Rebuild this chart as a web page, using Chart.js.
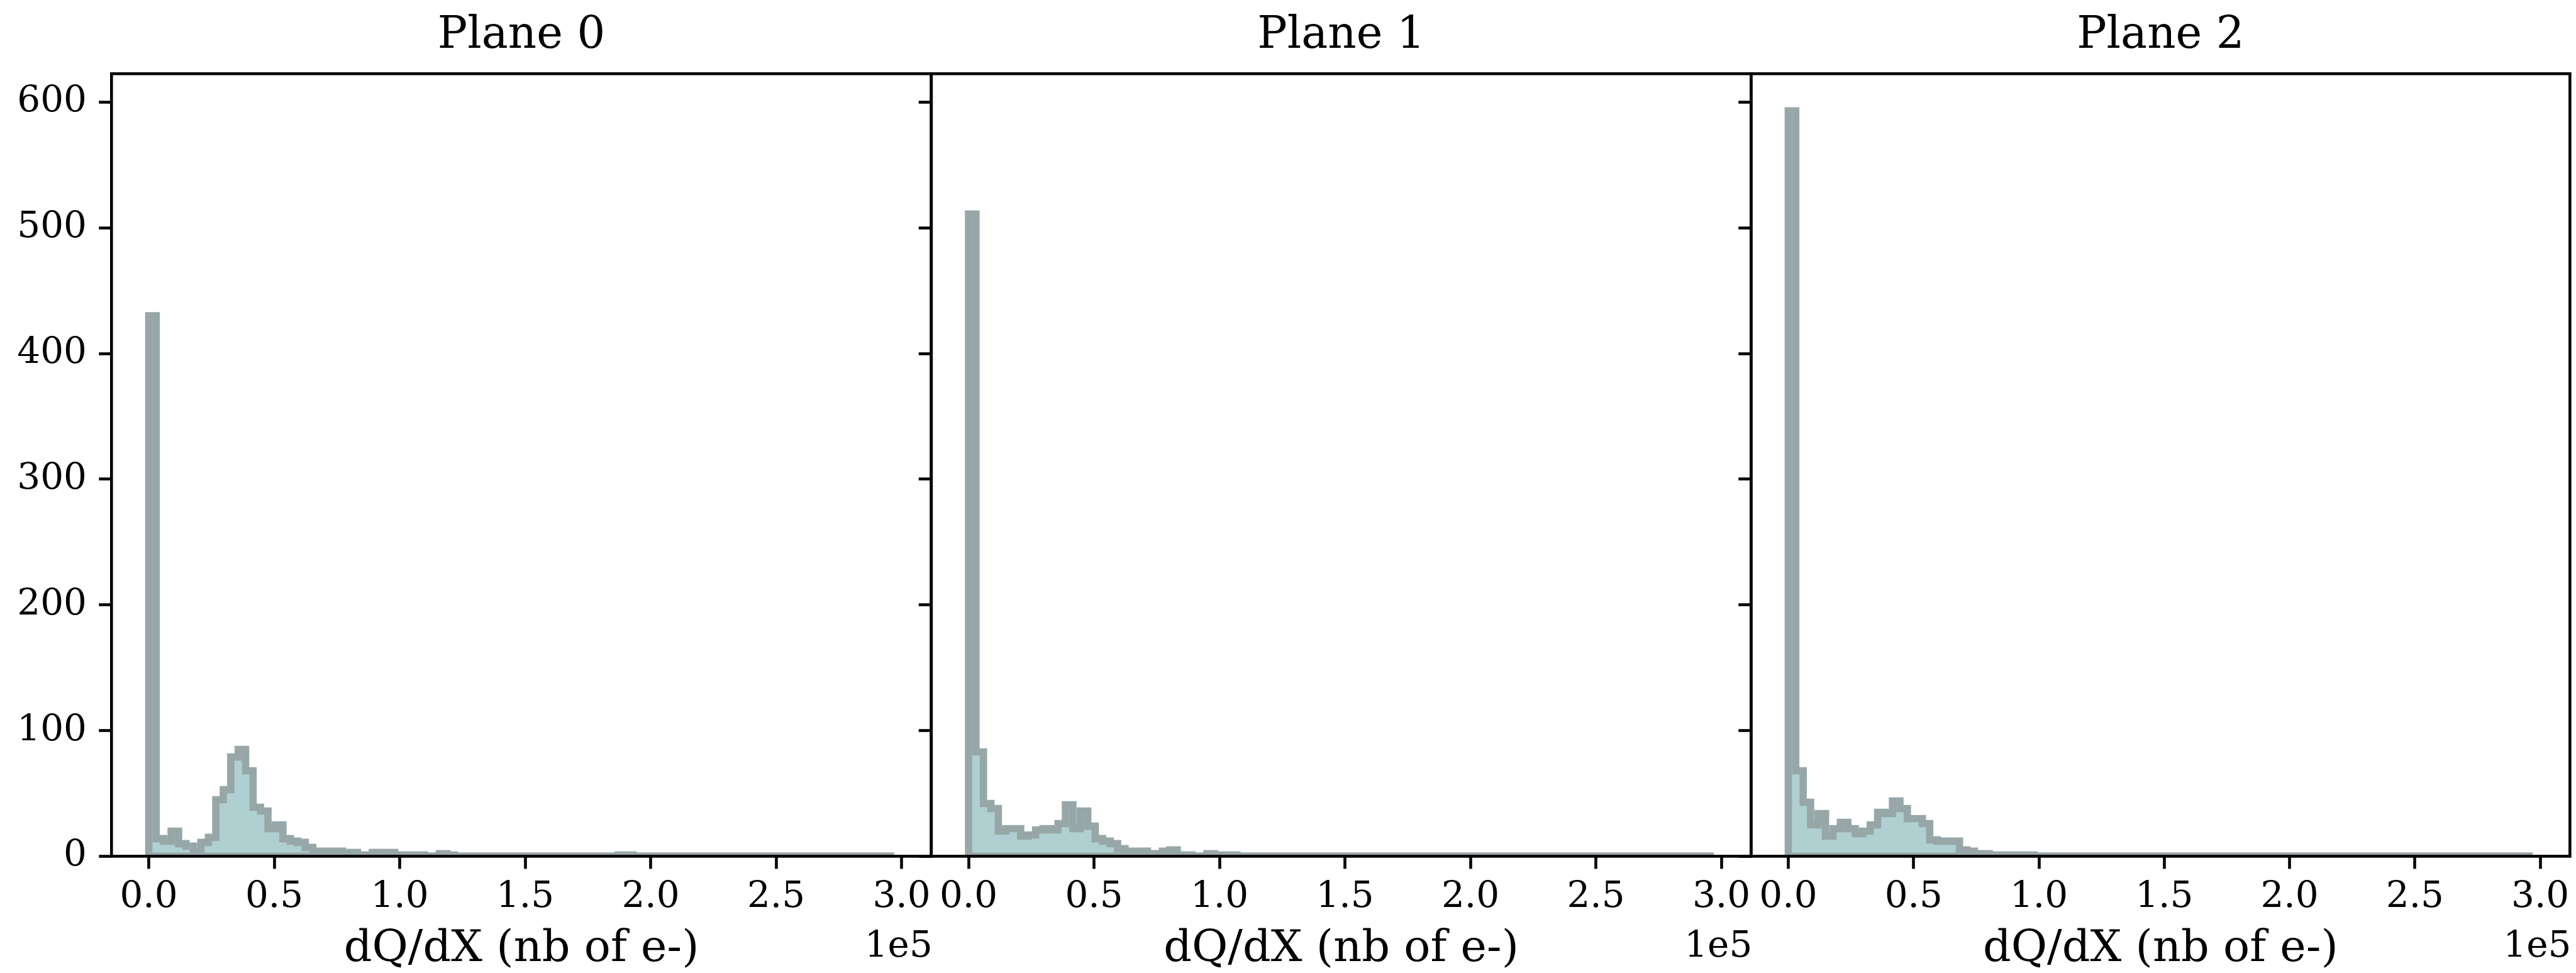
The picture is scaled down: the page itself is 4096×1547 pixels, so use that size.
<!DOCTYPE html>
<html>
<head>
<meta charset="utf-8">
<title>dQ/dX por plano</title>
<script src="https://cdn.jsdelivr.net/npm/chart.js@4.4.1/dist/chart.umd.min.js"></script>
<style>
  html, body { margin: 0; padding: 0; background: #fff; }
  #figura { position: relative; width: 4096px; height: 1547px; overflow: hidden; }
  #figura canvas { position: absolute; left: 0; top: 0; }
</style>
</head>
<body>
<div id="figura">
  <canvas id="plane0" width="4096" height="1547"></canvas>
  <canvas id="plane1" width="4096" height="1547"></canvas>
  <canvas id="plane2" width="4096" height="1547"></canvas>
</div>
<script>
// histograms: 100 bins starting at 0, each 2970 e- wide
const binStart = 0;
const binWidth = 2970;

const planeNames = ["Plane 0", "Plane 1", "Plane 2"];

const plane0Counts = [
    430, 14, 12, 20, 10, 8, 3, 11, 15, 45,
    53, 79, 85, 68, 39, 36, 22, 25, 14, 12,
    11, 7, 4, 3, 4, 4, 2, 3, 1, 1,
    3, 2, 3, 1, 1, 1, 1, 0, 0, 2,
    1, 0, 0, 0, 0, 0, 0, 0, 0, 0,
    0, 0, 0, 0, 0, 0, 0, 0, 0, 0,
    0, 0, 0, 1, 1, 0, 0, 0, 0, 0,
    0, 0, 0, 0, 0, 0, 0, 0, 0, 0,
    0, 0, 0, 0, 0, 0, 0, 0, 0, 0,
    0, 0, 0, 0, 0, 0, 0, 0, 0, 0
];

const plane1Counts = [
    511, 83, 42, 38, 20, 22, 22, 16, 17, 21,
    22, 21, 26, 41, 22, 36, 24, 14, 12, 10,
    6, 4, 3, 4, 2, 2, 4, 5, 1, 1,
    0, 0, 2, 1, 1, 1, 0, 0, 0, 0,
    0, 0, 0, 0, 0, 0, 0, 0, 0, 0,
    0, 0, 0, 0, 0, 0, 0, 0, 0, 0,
    0, 0, 0, 0, 0, 0, 0, 0, 0, 0,
    0, 0, 0, 0, 0, 0, 0, 0, 0, 0,
    0, 0, 0, 0, 0, 0, 0, 0, 0, 0,
    0, 0, 0, 0, 0, 0, 0, 0, 0, 0
];

const plane2Counts = [
    593, 68, 43, 25, 34, 16, 22, 27, 22, 18,
    20, 25, 35, 34, 44, 38, 30, 30, 26, 13,
    12, 12, 12, 5, 4, 2, 2, 1, 1, 1,
    1, 1, 1, 0, 0, 0, 0, 0, 0, 0,
    0, 0, 0, 0, 0, 0, 0, 0, 0, 0,
    0, 0, 0, 0, 0, 0, 0, 0, 0, 0,
    0, 0, 0, 0, 0, 0, 0, 0, 0, 0,
    0, 0, 0, 0, 0, 0, 0, 0, 0, 0,
    0, 0, 0, 0, 0, 0, 0, 0, 0, 0,
    0, 0, 0, 0, 0, 0, 0, 0, 0, 0
];

const xTicks = [0, 50000, 100000, 150000, 200000, 250000, 300000];
const yTicks = [0, 100, 200, 300, 400, 500, 600];
const xRange = [-14850, 311850];
const yRange = [0, 622.6];
const xLabel = "dQ/dX (nb of e-)";
const offsetText = "1e5";

// posicoes na janela (px)
const W = 4096, H = 1547;
const panelLeft = [177.3, 1480.8, 2784.3];
const panelWidth = 1303.5;
const areaBottom = 1361.4;
const yAxisWidth = 177.3;

const fonte = "'DejaVu Serif', serif";
const corBorda = '#97a7a7';
const corFill = '#afcfd0';
const larguraLinha = 11.6;

// pontos do contorno em degraus do histograma
function histPoints(counts) {
    const pts = [{ x: binStart, y: 0 }];
    counts.forEach((c, i) => pts.push({ x: binStart + i * binWidth, y: c }));
    pts.push({ x: binStart + counts.length * binWidth, y: 0 });
    return pts;
}

// moldura preta em volta da area do grafico
const molduraPlugin = {
    id: 'moldura',
    afterDatasetsDraw(chart) {
        const { ctx, chartArea: a } = chart;
        ctx.save();
        ctx.strokeStyle = '#000';
        ctx.lineWidth = 4.6;
        ctx.strokeRect(a.left, a.top, a.right - a.left, a.bottom - a.top);
        ctx.restore();
    }
};

// texto "1e5" do eixo x
const offsetPlugin = {
    id: 'offsetTexto',
    afterDraw(chart) {
        const { ctx, chartArea: a } = chart;
        ctx.save();
        ctx.font = `58px ${fonte}`;
        ctx.fillStyle = '#000';
        ctx.textAlign = 'right';
        ctx.textBaseline = 'alphabetic';
        ctx.fillText(offsetText, a.right + 2, a.bottom + 160);
        ctx.restore();
    }
};

function criarPainel(idx, counts) {
    const left = panelLeft[idx];
    const right = left + panelWidth;
    const gradeTicks = {
        display: true,
        drawOnChartArea: false,
        drawTicks: true,
        tickLength: 20,
        tickWidth: 4.6,
        tickColor: '#000'
    };

    return new Chart(document.getElementById('plane' + idx), {
        type: 'line',
        data: {
            datasets: [{
                data: histPoints(counts),
                stepped: true,
                fill: 'origin',
                borderColor: corBorda,
                backgroundColor: corFill,
                borderWidth: larguraLinha,
                pointRadius: 0,
                clip: 0,
                order: 1
            }, {
                // borda de baixo do histograma
                data: [{ x: binStart, y: 0 }, { x: binStart + counts.length * binWidth, y: 0 }],
                borderColor: corBorda,
                borderWidth: larguraLinha,
                pointRadius: 0,
                fill: false,
                clip: 0,
                order: 0
            }]
        },
        options: {
            responsive: false,
            animation: false,
            devicePixelRatio: 1,
            layout: { padding: { left: left - yAxisWidth, right: W - right, top: 0, bottom: 0 } },
            plugins: {
                legend: { display: false },
                tooltip: { enabled: false },
                title: {
                    display: true,
                    text: planeNames[idx],
                    fullSize: false,
                    color: '#000',
                    font: { family: fonte, size: 70.5, weight: 'normal', lineHeight: 1 },
                    padding: { top: 22.8, bottom: 23.9 }
                }
            },
            scales: {
                x: {
                    type: 'linear',
                    min: xRange[0],
                    max: xRange[1],
                    afterBuildTicks: s => { s.ticks = xTicks.map(v => ({ value: v })); },
                    afterFit: s => { s.height = H - areaBottom; },
                    grid: gradeTicks,
                    border: { display: false },
                    ticks: {
                        padding: 10.4,
                        autoSkip: false,
                        maxRotation: 0,
                        color: '#000',
                        font: { family: fonte, size: 58 },
                        callback: v => (v / 1e5).toFixed(1)
                    },
                    title: {
                        display: true,
                        text: xLabel,
                        color: '#000',
                        font: { family: fonte, size: 70, weight: 'normal', lineHeight: 1 },
                        padding: { top: 0, bottom: 2 }
                    }
                },
                y: {
                    min: yRange[0],
                    max: yRange[1],
                    afterBuildTicks: s => { s.ticks = yTicks.map(v => ({ value: v })); },
                    afterFit: s => { s.width = yAxisWidth; },
                    grid: gradeTicks,
                    border: { display: false },
                    ticks: {
                        display: idx === 0,
                        padding: 19.3,
                        color: '#000',
                        font: { family: fonte, size: 58 },
                        callback: v => String(v)
                    }
                }
            }
        },
        plugins: [molduraPlugin, offsetPlugin]
    });
}

criarPainel(0, plane0Counts);
criarPainel(1, plane1Counts);
criarPainel(2, plane2Counts);
</script>
</body>
</html>
